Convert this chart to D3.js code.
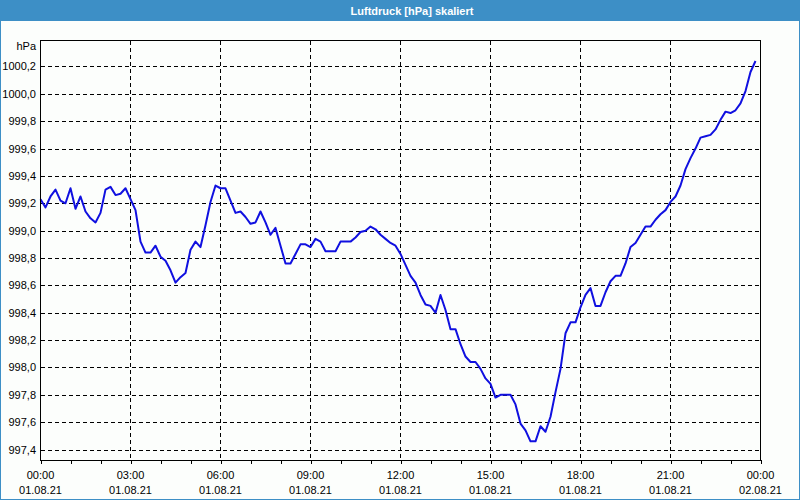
<!DOCTYPE html>
<html>
<head>
<meta charset="utf-8">
<script src="https://cdn.jsdelivr.net/npm/d3@7"></script>
<style>
  body { margin: 0; background: #fff; }
  svg { display: block; font-family: "Liberation Sans", Arial, sans-serif; }
</style>
</head>
<body>
<svg width="800" height="500"></svg>
<script>
// readings every 10 minutes, 01.08.21 00:00 .. 23:50
var startTime = new Date(2021, 7, 1, 0, 0);
var stepMinutes = 10;
var pressure = [
  999.23, 999.17, 999.25, 999.30, 999.22, 999.20, 999.31, 999.16, 999.25, 999.14, 999.09, 999.06,
  999.13, 999.30, 999.32, 999.26, 999.27, 999.31, 999.23, 999.15, 998.92, 998.84, 998.84, 998.89,
  998.81, 998.78, 998.71, 998.62, 998.66, 998.69, 998.86, 998.92, 998.88, 999.04, 999.21, 999.33,
  999.31, 999.31, 999.22, 999.13, 999.14, 999.10, 999.05, 999.06, 999.14, 999.06, 998.97, 999.02,
  998.89, 998.76, 998.76, 998.83, 998.90, 998.90, 998.88, 998.94, 998.92, 998.85, 998.85, 998.85,
  998.92, 998.92, 998.92, 998.95, 998.99, 999.00, 999.03, 999.01, 998.97, 998.94, 998.91, 998.89,
  998.83, 998.75, 998.67, 998.62, 998.53, 998.46, 998.45, 998.40, 998.53, 998.42, 998.28, 998.28,
  998.17, 998.08, 998.04, 998.04, 997.99, 997.92, 997.88, 997.78, 997.80, 997.80, 997.80, 997.73,
  997.59, 997.54, 997.46, 997.46, 997.57, 997.53, 997.64, 997.82, 997.99, 998.25, 998.33, 998.33,
  998.44, 998.53, 998.58, 998.45, 998.45, 998.55, 998.63, 998.67, 998.67, 998.76, 998.88, 998.91,
  998.97, 999.03, 999.03, 999.08, 999.12, 999.15, 999.21, 999.25, 999.33, 999.45, 999.53, 999.60,
  999.68, 999.69, 999.70, 999.74, 999.81, 999.87, 999.86, 999.88, 999.93, 1000.02, 1000.16, 1000.24
];
var yTicks = [997.4, 997.6, 997.8, 998.0, 998.2, 998.4, 998.6, 998.8, 999.0, 999.2, 999.4, 999.6, 999.8, 1000.0, 1000.2];
var xTickHours = [0, 3, 6, 9, 12, 15, 18, 21, 24];
var title = "Luftdruck [hPa] skaliert";
var unit = "hPa";

var data = pressure.map(function(v, i) {
  return { t: new Date(startTime.getTime() + i * stepMinutes * 60000), v: v };
});

var svg = d3.select("svg"),
    W = +svg.attr("width"), H = +svg.attr("height"),
    margin = {top: 40, right: 40, bottom: 40, left: 40},
    pLeft = margin.left + 0.5, pRight = W - margin.right + 0.5,
    pTop = margin.top + 0.5, pBottom = H - margin.bottom + 0.5;

var blue = "#3d8fc6";

// background + window frame
svg.append("rect").attr("width", W).attr("height", H).attr("fill", "#fcfefc");
svg.append("rect").attr("x", 0.5).attr("y", 0.5).attr("width", W - 1).attr("height", H - 1)
  .attr("fill", "none").attr("stroke", blue);
svg.append("rect").attr("width", W).attr("height", 21).attr("fill", blue);
svg.append("text").attr("x", 412).attr("y", 14.5).attr("text-anchor", "middle")
  .attr("fill", "#fff").attr("font-weight", "bold").attr("font-size", "11px").text(title);

var endTime = d3.timeDay.offset(startTime, 1);
var x = d3.scaleTime().domain([startTime, endTime]).range([pLeft, pRight]);
var y = d3.scaleLinear().domain([997.32, 1000.39]).range([pBottom, pTop]);

var grid = svg.append("g").attr("stroke", "#000").attr("stroke-dasharray", "4,3")
  .attr("shape-rendering", "crispEdges");

grid.selectAll(".hgrid").data(yTicks).enter().append("line")
  .attr("x1", pLeft).attr("x2", pRight)
  .attr("y1", function(d) { return Math.round(y(d)) + 0.5; })
  .attr("y2", function(d) { return Math.round(y(d)) + 0.5; });

grid.selectAll(".vgrid").data(xTickHours.slice(1, -1)).enter().append("line")
  .attr("y1", pTop).attr("y2", pBottom)
  .attr("x1", function(h) { return x(d3.timeHour.offset(startTime, h)); })
  .attr("x2", function(h) { return x(d3.timeHour.offset(startTime, h)); });

// hourly tick marks below the axis
var xAxis = d3.axisBottom(x).ticks(d3.timeHour.every(1)).tickSize(4).tickFormat("");
var gx = svg.append("g").attr("transform", "translate(0," + (pBottom - 0.5) + ")").call(xAxis);
gx.select(".domain").remove();
gx.selectAll("line").attr("stroke", "#000").attr("shape-rendering", "crispEdges");

var fmtTime = d3.timeFormat("%H:%M"), fmtDate = d3.timeFormat("%d.%m.%y");
var xl = svg.append("g").attr("font-size", "11px").attr("fill", "#000").attr("text-anchor", "middle");
xTickHours.forEach(function(h) {
  var t = d3.timeHour.offset(startTime, h);
  var tx = xl.append("text").attr("x", x(t));
  tx.append("tspan").attr("x", x(t)).attr("y", 479).text(fmtTime(t));
  tx.append("tspan").attr("x", x(t)).attr("y", 494).text(fmtDate(t));
});

var fmtY = function(d) { return d3.format(".1f")(d).replace(".", ","); };
var yl = svg.append("g").attr("font-size", "11px").attr("fill", "#000").attr("text-anchor", "end");
yl.selectAll("text").data(yTicks).enter().append("text")
  .attr("x", 36).attr("y", function(d) { return y(d) + 4; }).text(fmtY);
yl.append("text").attr("x", 36).attr("y", 50).text(unit);

// data line
var line = d3.line().x(function(d) { return x(d.t); }).y(function(d) { return y(d.v); });
svg.append("path").datum(data).attr("d", line).attr("fill", "none")
  .attr("stroke", "#1010e0").attr("stroke-width", 2).attr("stroke-linejoin", "round");

// plot frame
svg.append("rect").attr("x", pLeft).attr("y", pTop).attr("width", pRight - pLeft).attr("height", pBottom - pTop)
  .attr("fill", "none").attr("stroke", "#000").attr("shape-rendering", "crispEdges");
</script>
</body>
</html>
